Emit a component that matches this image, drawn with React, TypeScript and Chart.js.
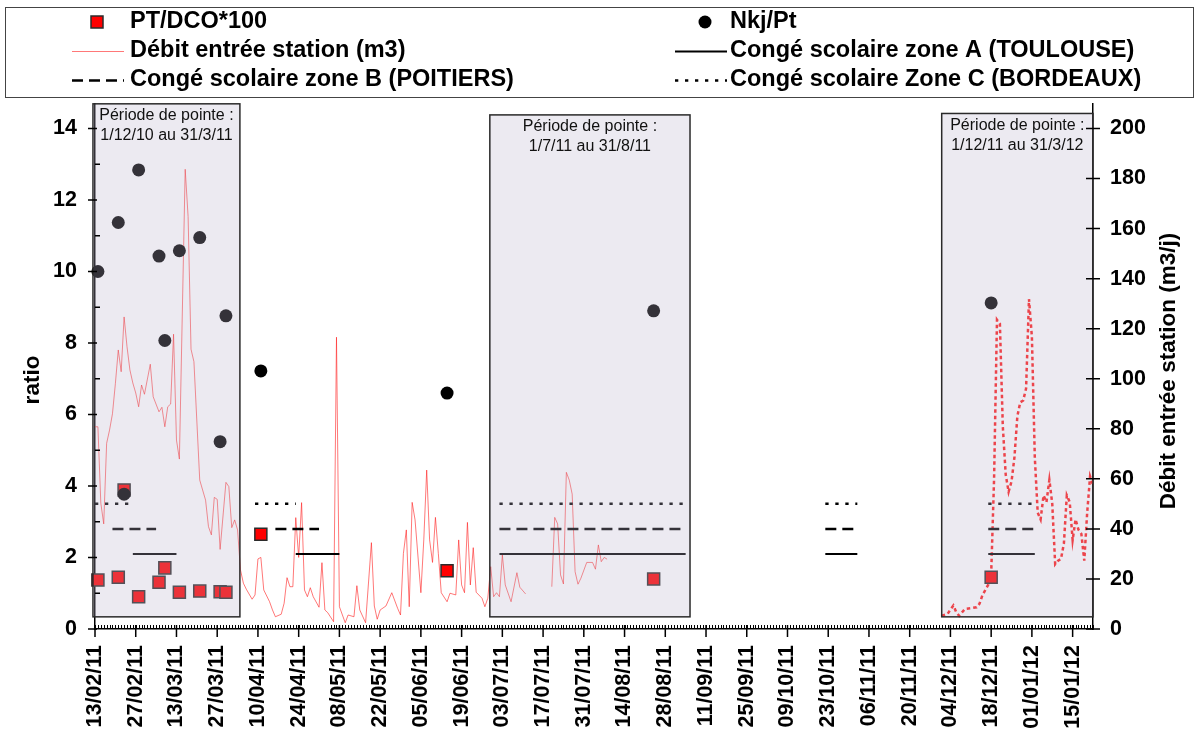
import React, { useEffect, useRef } from "react";
import { Chart, registerables } from "chart.js";

Chart.register(...registerables);

const FONT = "'Liberation Sans', Arial, Helvetica, sans-serif";
const DAY_MS = 86400000;
const BASE_DATE = Date.UTC(2011, 1, 13); // x values = days counted from 13/02/11

// ---------- tick labels ----------
const xTickLabels = [
  "13/02/11", "27/02/11", "13/03/11", "27/03/11", "10/04/11", "24/04/11", "08/05/11",
  "22/05/11", "05/06/11", "19/06/11", "03/07/11", "17/07/11", "31/07/11", "14/08/11",
  "28/08/11", "11/09/11", "25/09/11", "09/10/11", "23/10/11", "06/11/11", "20/11/11",
  "04/12/11", "18/12/11", "01/01/12", "15/01/12",
];
const ratioTicks = [0, 2, 4, 6, 8, 10, 12, 14];
const flowTicks = [0, 20, 40, 60, 80, 100, 120, 140, 160, 180, 200];

// ---------- sampled ratios (left axis) ----------
const sampleDays = [1, 8, 10, 15, 22, 24, 29, 36, 43, 45, 57, 121, 192, 308];
const ptDco100 = [1.37, 1.45, 3.89, 0.9, 1.31, 1.71, 1.03, 1.06, 1.04, 1.03, 2.65, 1.63, 1.4, 1.45];
const nkjPt = [10.0, 11.37, 3.77, 12.84, 10.43, 8.07, 10.58, 10.95, 5.24, 8.76, 7.22, 6.6, 8.9, 9.12];

// ---------- inflow (right axis, m3/j); null = no measurement ----------
const flowDays = [
  0, 1, 2, 3, 4, 5, 6, 7, 8, 9, 10, 11, 12, 13, 14, 15, 16, 17, 19, 20, 22, 23, 24, 25, 26, 27, 28, 29,
  31, 32, 33, 34, 36, 38, 39, 40, 41, 42, 43, 45, 46, 47, 48, 49, 50, 51, 52, 54, 55, 56, 57, 58,
  60, 61, 62, 64, 65, 66, 67, 68, 69, 70, 71, 72, 73, 74, 75, 77, 78, 79, 80, 82, 83, 84, 86, 87,
  89, 90, 91, 93, 95, 96, 97, 98, 100, 102, 104, 105, 106, 107, 108, 109, 110, 112, 113, 114, 115,
  116, 117, 118, 119, 121, 122, 124, 125, 126, 127, 128, 129, 130, 131, 133, 134, 135, 136, 137,
  138, 139, 140, 141, 143, 145, 146, 148,
  152,
  157, 158, 159, 160, 161, 162, 163, 164, 165, 166, 167, 169, 171, 172, 173, 174, 175, 176,
  230,
  291, 293, 295, 296, 297, 299, 301, 303, 304, 305, 307, 308, 309, 310, 311, 312, 313, 314, 315,
  316, 317, 318, 319, 320, 321, 322, 323, 324, 325, 326, 327, 328, 329, 330, 331, 332, 333, 334,
  335, 336, 337, 338, 339, 340, 341, 342, 343,
];
const flowValues = [
  80.8, 80.8, 50.3, 42.0, 74.2, 79.5, 86.0, 98.0, 111.5, 102.8, 124.7, 112.8, 103.5, 98.3, 94.3,
  88.8, 97.5, 93.8, 105.8, 92.8, 86.8, 88.6, 80.8, 88.8, 89.9, 117.8, 75.5, 67.9,
  183.7, 164.8, 111.8, 106.8, 59.5, 51.5, 40.9, 37.6, 52.6, 51.8, 31.8, 58.6, 56.9, 40.5, 43.6,
  39.6, 23.6, 18.3, 15.9, 11.9, 13.6, 28.0, 28.6, 15.6,
  10.9, 7.6, 4.9, 5.9, 10.3, 20.5, 16.9, 16.9, 44.5, 28.6, 50.5, 15.6, 12.9, 16.5, 12.9, 8.7,
  26.5, 7.6, 6.5, 2.9, 116.6, 8.9, 2.5, 5.6,
  4.9, 17.3, 7.6, 2.5, 34.5, 9.2, 3.9, 7.6, 9.2, 14.5, 8.3, 5.6, 30.2, 39.6, 8.9, 50.6, 43.6,
  14.5, 35.6, 63.5, 35.6,
  26.6, 44.6, 30.2, 14.5, 10.9, 14.3, 13.6, 35.6, 17.6, 14.5, 42.6, 17.6, 32.5, 14.7, 12.3, 8.9,
  12.3, 24.9, 12.9, 14.5, 12.9, 29.6, 17.6, 10.9, 22.5, 16.7, 14.0,
  null,
  16.9, 44.6, 42.0, 21.6, 18.0, 62.6, 59.5, 53.9, 22.9, 17.9, 20.3, 26.6, 26.6, 23.9, 33.6, 26.9,
  28.6, 27.9,
  null,
  5.3, 6.0, 9.4, 6.7, 5.3, 8.0, 8.3, 8.7, 10.1, 13.5, 17.7, 21.8, 60.0, 123.6, 122.0, 81.0, 61.7,
  54.8, 59.0, 68.6, 85.0, 90.6, 91.3, 96.1, 131.8, 116.7, 68.6, 46.5, 43.8, 53.4, 50.7, 59.6,
  50.0, 25.9, 27.3, 28.0, 34.2, 53.4, 50.7, 35.5, 43.8, 39.7, 38.0, 27.3, 46.5, 61.0, 57.6,
];
const dottedFromDay = 290;

// ---------- school holidays (day ranges) ----------
const holidaysA = [[13, 28], [69, 84], [139, 203], [251, 262], [307, 323]];
const holidaysB = [[6, 21], [62, 77], [139, 203], [251, 262], [307, 323]];
const holidaysC = [[0, 13], [55, 69], [139, 203], [251, 262], [307, 323]];
const levelA = 2.1;
const levelB = 2.8;
const levelC = 3.5;

// ---------- peak periods ----------
const periodTitle = "Période de pointe :";
const periodRanges = [[-0.7, 49.8], [135.7, 204.5], [291, 343]];
const periodLabels = ["1/12/10 au 31/3/11", "1/7/11 au 31/8/11", "1/12/11 au 31/3/12"];

const leftTitle = "ratio";
const rightTitle = "Débit entrée station (m3/j)";

const labelDay = (s: string) => {
  const [d, m, y] = s.split("/").map(Number);
  return Math.round((Date.UTC(2000 + y, m - 1, d) - BASE_DATE) / DAY_MS);
};
const xTickDays = xTickLabels.map(labelDay);

const holidayData = (ranges: number[][], level: number) => {
  const out: any[] = [];
  ranges.forEach(([a, b]) => {
    out.push({ x: a, y: level }, { x: b, y: level }, { x: b + 0.5, y: null });
  });
  return out;
};

const X_MAX = 343;
const Y_MAX = 14.685;
const Y2_MAX = (Y_MAX * 200) / 14;

const boxesPlugin = {
  id: "peakBoxes",
  afterDatasetsDraw(chart: any) {
    const { ctx, scales } = chart;
    const tops = [14.69, 14.38, 14.42];
    const bottom = 0.34;
    ctx.save();
    periodRanges.forEach(([a, b], i) => {
      const x1 = scales.x.getPixelForValue(a);
      const x2 = scales.x.getPixelForValue(b);
      const y1 = scales.y.getPixelForValue(tops[i]);
      const y2 = scales.y.getPixelForValue(bottom);
      ctx.fillStyle = "rgba(188,181,206,0.28)";
      ctx.fillRect(x1, y1, x2 - x1, y2 - y1);
      ctx.strokeStyle = "#2a2a2a";
      ctx.lineWidth = 1.5;
      ctx.strokeRect(x1, y1, x2 - x1, y2 - y1);
      ctx.fillStyle = "#111";
      ctx.font = `16px ${FONT}`;
      ctx.textAlign = "center";
      ctx.textBaseline = "middle";
      const cx = (x1 + x2) / 2;
      ctx.fillText(periodTitle, cx, y1 + 12);
      ctx.fillText(periodLabels[i], cx, y1 + 32);
    });
    ctx.restore();
  },
};

const axisPlugin = {
  id: "axisDecor",
  afterDraw(chart: any) {
    const { ctx, chartArea: ca, scales } = chart;
    ctx.save();
    ctx.strokeStyle = "#000";
    ctx.lineWidth = 1;
    ctx.beginPath();
    for (let d = 0; d <= X_MAX; d++) {
      const px = Math.round(scales.x.getPixelForValue(d)) + 0.5;
      ctx.moveTo(px, ca.bottom - 4);
      ctx.lineTo(px, ca.bottom);
    }
    ctx.stroke();
    ctx.lineWidth = 1.5;
    ctx.beginPath();
    xTickDays.forEach((d) => {
      const px = scales.x.getPixelForValue(d);
      ctx.moveTo(px, ca.bottom - 4);
      ctx.lineTo(px, ca.bottom + 8);
    });
    for (let v = 0; v <= 14; v++) {
      const py = scales.y.getPixelForValue(v);
      if (v % 2 === 0) {
        ctx.moveTo(ca.left - 7, py);
        ctx.lineTo(ca.left + 2, py);
      } else {
        ctx.moveTo(ca.left, py);
        ctx.lineTo(ca.left + 5, py);
      }
    }
    flowTicks.forEach((v) => {
      const py = scales.y2.getPixelForValue(v);
      ctx.moveTo(ca.right - 7, py);
      ctx.lineTo(ca.right + 7, py);
    });
    ctx.stroke();

    // axis titles
    ctx.fillStyle = "#000";
    ctx.font = `bold 22.5px ${FONT}`;
    ctx.textAlign = "center";
    ctx.textBaseline = "middle";
    ctx.save();
    ctx.translate(33, 380);
    ctx.rotate(-Math.PI / 2);
    ctx.fillText(leftTitle, 0, 0);
    ctx.restore();
    ctx.save();
    ctx.translate(1169, 371);
    ctx.rotate(-Math.PI / 2);
    ctx.fillText(rightTitle, 0, 0);
    ctx.restore();
    ctx.restore();
  },
};

const legendPlugin = {
  id: "sheetLegend",
  afterDraw(chart: any) {
    const { ctx } = chart;
    const ds = chart.data.datasets;
    ctx.save();
    ctx.strokeStyle = "#444";
    ctx.lineWidth = 1;
    ctx.strokeRect(5.5, 7.5, 1188, 90);
    const rows = [22, 51, 80];
    const cols = [{ s: 72, t: 130 }, { s: 675, t: 730 }];
    const layout = [
      [1, 0, 0],
      [0, 1, 0],
      [5, 0, 1],
      [2, 1, 1],
      [3, 0, 2],
      [4, 1, 2],
    ];
    layout.forEach(([i, c, r]) => {
      const d = ds[i];
      const y = rows[r];
      const col = cols[c];
      const kind = d.legendKind;
      if (kind === "square") {
        ctx.fillStyle = "#ff0000";
        ctx.strokeStyle = "#2b2b2b";
        ctx.lineWidth = 1.5;
        ctx.fillRect(col.s + 19, y - 6, 12, 12);
        ctx.strokeRect(col.s + 19, y - 6, 12, 12);
      } else if (kind === "circle") {
        ctx.fillStyle = "#000";
        ctx.beginPath();
        ctx.arc(col.s + 30, y, 6.5, 0, Math.PI * 2);
        ctx.fill();
      } else {
        ctx.strokeStyle = d.borderColor;
        ctx.lineWidth = d.borderWidth;
        ctx.setLineDash(d.borderDash || []);
        ctx.beginPath();
        ctx.moveTo(col.s, y + 0.5);
        ctx.lineTo(col.s + 52, y + 0.5);
        ctx.stroke();
        ctx.setLineDash([]);
      }
      ctx.fillStyle = "#000";
      ctx.font = `bold 23.5px ${FONT}`;
      ctx.textAlign = "left";
      ctx.textBaseline = "middle";
      ctx.fillText(d.label, col.t, y);
    });
    ctx.restore();
  },
};

export default function App() {
  const ref = useRef<HTMLCanvasElement>(null);
  useEffect(() => {
    if (!ref.current) return;
    const tickFont = { family: FONT, size: 21.5, weight: "bold" as const };
    const chart = new Chart(ref.current, {
      type: "line",
      data: {
        datasets: [
          {
            label: "Nkj/Pt",
            legendKind: "circle",
            data: sampleDays.map((d, i) => ({ x: d, y: nkjPt[i] })),
            yAxisID: "y",
            showLine: false,
            pointStyle: "circle",
            pointRadius: 6.5,
            pointBackgroundColor: "#000",
            pointBorderWidth: 0,
            clip: false,
            order: 0,
          } as any,
          {
            label: "PT/DCO*100",
            legendKind: "square",
            data: sampleDays.map((d, i) => ({ x: d, y: ptDco100[i] })),
            yAxisID: "y",
            showLine: false,
            pointStyle: "rect",
            pointRadius: 8.5,
            pointBackgroundColor: "#ff0000",
            pointBorderColor: "#2b2b2b",
            pointBorderWidth: 1.5,
            clip: false,
            order: 1,
          },
          {
            label: "Congé scolaire zone A (TOULOUSE)",
            data: holidayData(holidaysA, levelA),
            yAxisID: "y",
            borderColor: "#000",
            borderWidth: 2,
            pointRadius: 0,
            spanGaps: false,
            order: 2,
          },
          {
            label: "Congé scolaire zone B (POITIERS)",
            data: holidayData(holidaysB, levelB),
            yAxisID: "y",
            borderColor: "#000",
            borderWidth: 2.5,
            borderDash: [11, 6],
            pointRadius: 0,
            spanGaps: false,
            order: 2,
          },
          {
            label: "Congé scolaire Zone C (BORDEAUX)",
            data: holidayData(holidaysC, levelC),
            yAxisID: "y",
            borderColor: "#000",
            borderWidth: 2.5,
            borderDash: [3.3, 6.7],
            pointRadius: 0,
            spanGaps: false,
            order: 2,
          },
          {
            label: "Débit entrée station (m3)",
            data: flowDays.map((d, i) => ({ x: d, y: flowValues[i] })),
            yAxisID: "y2",
            borderColor: "rgba(255,30,30,0.6)",
            borderWidth: 1,
            pointRadius: 0,
            spanGaps: false,
            tension: 0,
            order: 3,
            segment: {
              borderDash: (c: any) => (c.p0.parsed.x >= dottedFromDay ? [3.5, 3] : undefined),
              borderWidth: (c: any) => (c.p0.parsed.x >= dottedFromDay ? 2.5 : undefined),
              borderColor: (c: any) => (c.p0.parsed.x >= dottedFromDay ? "#ff1a1a" : undefined),
            },
          },
        ],
      },
      options: {
        responsive: false,
        animation: false,
        devicePixelRatio: 1,
        events: [],
        layout: { padding: { top: 104, left: 0, right: 0, bottom: 0 } },
        plugins: { legend: { display: false }, tooltip: { enabled: false }, title: { display: false } },
        scales: {
          x: {
            type: "linear",
            min: 0,
            max: X_MAX,
            afterBuildTicks: (s: any) => {
              s.ticks = xTickDays.map((v) => ({ value: v }));
            },
            afterFit: (s: any) => {
              s.height = 106;
            },
            grid: { display: false, drawTicks: false },
            border: { display: true, color: "#000", width: 1.5 },
            ticks: {
              autoSkip: false,
              minRotation: 90,
              maxRotation: 90,
              padding: 16,
              color: "#000",
              font: tickFont,
              callback: (v: any) => xTickLabels[xTickDays.indexOf(Number(v))] ?? "",
            },
          },
          y: {
            type: "linear",
            position: "left",
            min: 0,
            max: Y_MAX,
            afterBuildTicks: (s: any) => {
              s.ticks = ratioTicks.map((v) => ({ value: v }));
            },
            afterFit: (s: any) => {
              s.width = 95;
            },
            grid: { display: false, drawTicks: false },
            border: { display: true, color: "#000", width: 1.5 },
            ticks: { padding: 18, color: "#000", font: tickFont },
          },
          y2: {
            type: "linear",
            position: "right",
            min: 0,
            max: Y2_MAX,
            afterBuildTicks: (s: any) => {
              s.ticks = flowTicks.map((v) => ({ value: v }));
            },
            afterFit: (s: any) => {
              s.width = 107;
            },
            grid: { display: false, drawTicks: false },
            border: { display: true, color: "#000", width: 1.5 },
            ticks: { padding: 17, color: "#000", font: tickFont },
          },
        },
      },
      plugins: [boxesPlugin, axisPlugin, legendPlugin],
    } as any);
    return () => chart.destroy();
  }, []);

  return (
    <div style={{ position: "absolute", left: 0, top: 0, width: 1200, height: 735, background: "#fff" }}>
      <canvas ref={ref} width={1200} height={735} style={{ display: "block", width: 1200, height: 735 }} />
    </div>
  );
}
